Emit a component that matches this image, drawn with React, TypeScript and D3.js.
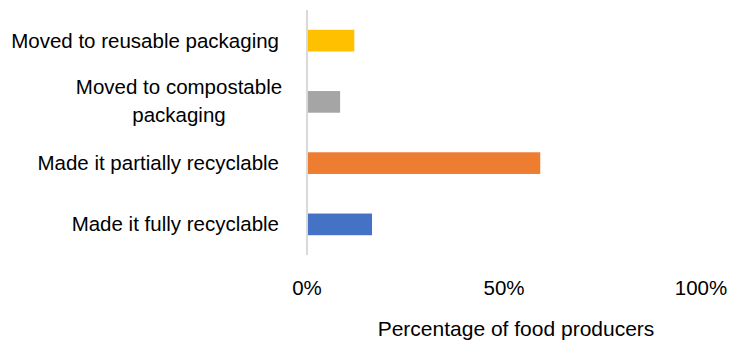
import React from "react";
import * as d3 from "d3";

const categories: string[][] = [
  ["Moved to reusable packaging"],
  ["Moved to compostable", "packaging"],
  ["Made it partially recyclable"],
  ["Made it fully recyclable"],
];
const values: number[] = [12, 8.4, 59.2, 16.5];
const colors: string[] = ["#FFC000", "#A5A5A5", "#ED7D31", "#4472C4"];
const tickValues: number[] = [0, 50, 100];
const axisTitle = "Percentage of food producers";

const W = 729;
const H = 345;

export default function App() {
  const x = d3.scaleLinear().domain([0, 100]).range([307, 701]);
  const y = d3
    .scaleBand<number>()
    .domain(d3.range(categories.length))
    .range([10, 255])
    .paddingInner(0.646)
    .paddingOuter(0.323);
  const font = "'Liberation Sans', Arial, sans-serif";
  const lineH = 28;
  const fs = 20.5;
  return (
    <svg
      width={W}
      height={H}
      style={{ position: "absolute", left: 0, top: 0, background: "#fff" }}
      fontFamily={font}
    >
      {values.map((v, i) => (
        <rect
          key={i}
          x={x(0) + 1}
          y={y(i)!}
          width={x(v) - x(0) - 1}
          height={y.bandwidth()}
          fill={colors[i]}
        />
      ))}
      <line x1={x(0)} x2={x(0)} y1={10} y2={255} stroke="#D9D9D9" strokeWidth={2} />
      {categories.map((lines, i) => {
        const cy = y(i)! + y.bandwidth() / 2;
        if (lines.length === 1) {
          return (
            <text key={i} x={279} y={cy + 7} textAnchor="end" fontSize={fs} fill="#000">
              {lines[0]}
            </text>
          );
        }
        return (
          <text key={i} textAnchor="middle" fontSize={fs} fill="#000">
            {lines.map((l, j) => (
              <tspan key={j} x={179} y={cy - 8 + j * lineH}>
                {l}
              </tspan>
            ))}
          </text>
        );
      })}
      {tickValues.map((t) => (
        <text key={t} x={x(t)} y={295} textAnchor="middle" fontSize={fs} fill="#000">
          {t + "%"}
        </text>
      ))}
      <text x={516} y={336} textAnchor="middle" fontSize={21} fill="#000">
        {axisTitle}
      </text>
    </svg>
  );
}
